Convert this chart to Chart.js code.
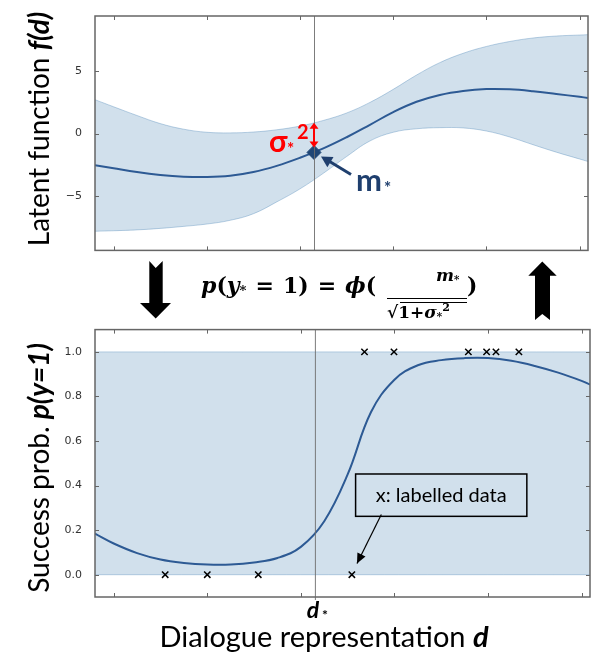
<!DOCTYPE html>
<html>
<head>
<meta charset="utf-8">
<script src="https://cdn.jsdelivr.net/npm/chart.js@4.4.1/dist/chart.umd.min.js"></script>
<style>
body{margin:0;background:#fff;width:596px;height:652px;overflow:hidden;position:relative}
#cTop{position:absolute;left:0;top:0}
#cBot{position:absolute;left:0;top:318px}
.fm{position:absolute;font-family:"DejaVu Serif",serif;font-weight:bold;line-height:1;white-space:nowrap;color:#000}
.fm i{font-style:italic}
.fm .op{margin:0 9px}
.fm .sb{font-size:60%;vertical-align:-2px}
.fm sup{font-size:65%;line-height:0}
.bar{position:absolute;height:1.5px;background:#000}
svg{position:absolute;left:0;top:0}
</style>
</head>
<body>
<canvas id="cTop" width="596" height="262"></canvas>
<canvas id="cBot" width="596" height="334"></canvas>

<svg width="596" height="652">
  <polygon points="149.3,261 155.7,268 162.7,261 162.7,303 171,303 155.7,318.5 140,303 149.3,303" fill="#000"/>
  <polygon points="542.3,261.5 556.7,275.7 550,275.7 550,320 542.3,314 535,320 535,275.7 528.3,275.7" fill="#000"/>
</svg>

<div class="fm" style="left:201px;top:274px;font-size:22px"><i>p</i>(<i>y</i><span class="sb">*</span><span class="op">=</span>1)<span class="op">=</span><i>ϕ</i>(</div>
<div class="fm" style="left:436px;top:267px;font-size:17px"><i>m</i><span class="sb">*</span></div>
<div class="bar" style="left:387px;top:297.5px;width:80px"></div>
<div class="bar" style="left:400px;top:301.5px;width:67px"></div>
<div class="fm" style="left:387px;top:304px;font-size:17px">√1+<i>σ</i><span class="sb">*</span><sup>2</sup></div>
<div class="fm" style="left:467px;top:274px;font-size:22px">)</div>

<script>
// ================= DATA =================
const xMin = -0.2;
const xMax = 5.09;
const xTicks = [0, 1, 2, 3, 4, 5];

// latent function (top)
const xs     = [-0.2, 0, 0.25, 0.5, 0.75, 1.0, 1.25, 1.5, 1.75, 2.0, 2.25, 2.5, 2.75, 3.0, 3.25, 3.5, 3.75, 4.0, 4.25, 4.5, 4.75, 5.0, 5.09];
const fMean  = [-2.55, -2.8, -3.1, -3.33, -3.47, -3.5, -3.4, -3.1, -2.6, -1.95, -1.2, -0.3, 0.7, 1.72, 2.55, 3.1, 3.42, 3.57, 3.55, 3.4, 3.18, 2.95, 2.86];
const fUpper = [2.72, 2.15, 1.45, 0.8, 0.35, 0.1, 0.05, 0.12, 0.3, 0.6, 1.05, 1.65, 2.5, 3.55, 4.7, 5.7, 6.45, 7.0, 7.4, 7.68, 7.84, 7.92, 7.95];
const fLower = [-7.86, -7.82, -7.75, -7.63, -7.47, -7.28, -6.98, -6.45, -5.5, -4.45, -3.2, -1.85, -0.6, 0.1, 0.38, 0.47, 0.45, 0.2, -0.28, -0.9, -1.5, -2.05, -2.25];
const fTicks = [-5, 0, 5];

// test point d*
const dStar = 2.15;
const mStar = -1.52;
const sigmaTop = 0.87;

// success probability (bottom)
const pSucc  = [0.184, 0.14, 0.097, 0.068, 0.053, 0.046, 0.046, 0.055, 0.075, 0.125, 0.24, 0.45, 0.73, 0.875, 0.94, 0.963, 0.972, 0.972, 0.96, 0.937, 0.907, 0.87, 0.853];
const pTicks = [0, 0.2, 0.4, 0.6, 0.8, 1.0];
const bandX  = [-0.2, 5.09];
const bandHi = [1, 1];
const bandLo = [0, 0];

// labelled data
const failX = [0.55, 1.0, 1.545, 2.545];
const failY = [0, 0, 0, 0];
const succX = [2.68, 2.995, 3.79, 3.985, 4.085, 4.33];
const succY = [1, 1, 1, 1, 1, 1];

// ================= HELPERS =================
const pts = (xa, ya) => xa.map((x, i) => ({x: x, y: ya[i]}));

const BAND = "rgba(70,130,180,0.25)";
const BAND_EDGE = "rgba(70,130,180,0.35)";
const LINE = "#2d5a94";
const FRAME = "#666";
const TXT = "Lato, sans-serif";

function frame(chart, yTicks, extendLine) {
    const {ctx, chartArea: a, scales: {x, y}} = chart;
    ctx.save();
    // d* vertical line
    const px = x.getPixelForValue(dStar);
    ctx.strokeStyle = "rgba(110,110,110,0.9)";
    ctx.lineWidth = 1;
    ctx.beginPath();
    ctx.moveTo(px + 0.5, a.top);
    ctx.lineTo(px + 0.5, a.bottom + extendLine);
    ctx.stroke();
    // box
    ctx.strokeStyle = FRAME;
    ctx.lineWidth = 1.5;
    ctx.strokeRect(a.left, a.top, a.right - a.left, a.bottom - a.top);
    // inward ticks
    ctx.lineWidth = 1;
    ctx.beginPath();
    xTicks.forEach(v => {
        const p = Math.round(x.getPixelForValue(v)) + 0.5;
        ctx.moveTo(p, a.bottom); ctx.lineTo(p, a.bottom - 4);
        ctx.moveTo(p, a.top); ctx.lineTo(p, a.top + 4);
    });
    yTicks.forEach(v => {
        const p = Math.round(y.getPixelForValue(v)) + 0.5;
        ctx.moveTo(a.left, p); ctx.lineTo(a.left + 4, p);
        ctx.moveTo(a.right, p); ctx.lineTo(a.right - 4, p);
    });
    ctx.stroke();
    ctx.restore();
}

function vTitle(ctx, cx, cy, parts) {
    ctx.save();
    ctx.translate(cx, cy);
    ctx.rotate(-Math.PI / 2);
    ctx.textBaseline = "middle";
    ctx.fillStyle = "#000";
    let total = 0;
    parts.forEach(p => { ctx.font = p.font; total += ctx.measureText(p.t).width; });
    let xx = -total / 2;
    parts.forEach(p => {
        ctx.font = p.font;
        ctx.fillText(p.t, xx, 0);
        xx += ctx.measureText(p.t).width;
    });
    ctx.restore();
}

function arrowHead(ctx, x1, y1, x2, y2, len, wid) {
    const ang = Math.atan2(y2 - y1, x2 - x1);
    ctx.beginPath();
    ctx.moveTo(x2, y2);
    ctx.lineTo(x2 - len * Math.cos(ang) + wid * Math.sin(ang), y2 - len * Math.sin(ang) - wid * Math.cos(ang));
    ctx.lineTo(x2 - len * Math.cos(ang) - wid * Math.sin(ang), y2 - len * Math.sin(ang) + wid * Math.cos(ang));
    ctx.closePath();
    ctx.fill();
}

function baseOptions(yMin, yMax, yTicks, fmt, pad) {
    return {
        responsive: false,
        animation: false,
        events: [],
        layout: {padding: pad},
        plugins: {legend: {display: false}, tooltip: {enabled: false}},
        elements: {line: {tension: 0.4}},
        scales: {
            x: {
                type: "linear", min: xMin, max: xMax, display: false,
                afterBuildTicks: s => { s.ticks = xTicks.map(v => ({value: v})); }
            },
            y: {
                min: yMin, max: yMax,
                grid: {display: false},
                border: {display: false},
                afterBuildTicks: s => { s.ticks = yTicks.map(v => ({value: v})); },
                afterFit: s => { s.width = 95; },
                ticks: {padding: 5, color: "#333", font: {family: "DejaVu Sans", size: 11}, callback: fmt}
            }
        }
    };
}

// ================= TOP CHART =================
const topDeco = {
    id: "topDeco",
    afterDraw(chart) {
        const {ctx, scales: {x, y}} = chart;
        frame(chart, fTicks, 0);
        const px = x.getPixelForValue(dStar);
        const pm = y.getPixelForValue(mStar);
        const ps = y.getPixelForValue(sigmaTop);
        ctx.save();
        // sigma double arrow
        ctx.strokeStyle = "#ff0000";
        ctx.fillStyle = "#ff0000";
        ctx.lineWidth = 2;
        ctx.beginPath();
        ctx.moveTo(px, pm - 8);
        ctx.lineTo(px, ps + 4);
        ctx.stroke();
        arrowHead(ctx, px, pm, px, ps, 6, 4.5);
        arrowHead(ctx, px, ps, px, pm - 5, 6, 4.5);
        // sigma label
        ctx.textBaseline = "alphabetic";
        ctx.font = "bold 30px " + TXT;
        ctx.fillText("σ", px - 45, pm);
        ctx.font = "bold 17px " + TXT;
        ctx.fillText("*", px - 27, pm + 3);
        ctx.font = "bold 20px " + TXT;
        ctx.fillText("2", px - 17, pm - 13);
        // m* arrow
        ctx.strokeStyle = "#1f3f6e";
        ctx.fillStyle = "#1f3f6e";
        ctx.lineWidth = 3;
        ctx.beginPath();
        ctx.moveTo(px + 37, pm + 22);
        ctx.lineTo(px + 14, pm + 8);
        ctx.stroke();
        arrowHead(ctx, px + 37, pm + 22, px + 7, pm + 4, 11, 6);
        ctx.font = "bold 31px " + TXT;
        ctx.fillText("m", px + 42, pm + 39);
        ctx.font = "bold 17px " + TXT;
        ctx.fillText("*", px + 70, pm + 42);
        ctx.restore();
        vTitle(ctx, 40, 129, [
            {t: "Latent function ", font: "28px " + TXT},
            {t: "f(d)", font: "italic bold 28px " + TXT}
        ]);
    }
};

new Chart(document.getElementById("cTop"), {
    type: "line",
    data: {
        datasets: [
            {data: pts(xs, fUpper), borderColor: BAND_EDGE, borderWidth: 1, pointRadius: 0, fill: "+1", backgroundColor: BAND, order: 3},
            {data: pts(xs, fLower), borderColor: BAND_EDGE, borderWidth: 1, pointRadius: 0, fill: false, order: 3},
            {data: pts(xs, fMean), borderColor: LINE, borderWidth: 2, pointRadius: 0, fill: false, order: 1},
            {data: [{x: dStar, y: mStar}], showLine: false, pointStyle: "rectRot", pointRadius: 7,
             backgroundColor: "#1f4675", borderColor: "#1f4675", order: 0}
        ]
    },
    options: baseOptions(-9.4, 9.45, fTicks, v => String(v).replace("-", "\u2212"),
                         {left: 0, top: 16, right: 2, bottom: 9}),
    plugins: [topDeco]
});

// ================= BOTTOM CHART =================
const botDeco = {
    id: "botDeco",
    afterDraw(chart) {
        const {ctx, chartArea: a, scales: {x, y}} = chart;
        frame(chart, pTicks, 3);
        ctx.save();
        // legend box
        const bx0 = x.getPixelForValue(2.585), bx1 = x.getPixelForValue(4.415);
        const by0 = y.getPixelForValue(0.452), by1 = y.getPixelForValue(0.262);
        ctx.strokeStyle = "#000";
        ctx.lineWidth = 1.5;
        ctx.strokeRect(bx0, by0, bx1 - bx0, by1 - by0);
        ctx.fillStyle = "#000";
        ctx.font = "20px " + TXT;
        ctx.textAlign = "center";
        ctx.textBaseline = "middle";
        ctx.fillText("x: labelled data", (bx0 + bx1) / 2, (by0 + by1) / 2);
        // arrow to a labelled point
        const ax0 = x.getPixelForValue(2.86), ay0 = y.getPixelForValue(0.27);
        const ax1 = x.getPixelForValue(2.6), ay1 = y.getPixelForValue(0.05);
        ctx.lineWidth = 1.2;
        ctx.beginPath();
        ctx.moveTo(ax0, ay0);
        ctx.lineTo(ax1, ay1);
        ctx.stroke();
        arrowHead(ctx, ax0, ay0, ax1, ay1, 10, 4.5);
        // d* label
        const px = x.getPixelForValue(dStar);
        ctx.textBaseline = "alphabetic";
        ctx.font = "italic bold 23px " + TXT;
        ctx.fillText("d", px - 2, a.bottom + 21);
        ctx.font = "bold 14px " + TXT;
        ctx.fillText("*", px + 10, a.bottom + 23);
        // x title
        ctx.textAlign = "left";
        const t1 = "Dialogue representation ";
        ctx.font = "29px " + TXT;
        const w1 = ctx.measureText(t1).width;
        ctx.font = "italic bold 29px " + TXT;
        const w2 = ctx.measureText("d").width;
        const sx = 324 - (w1 + w2) / 2;
        ctx.font = "29px " + TXT;
        ctx.fillText(t1, sx, a.bottom + 50);
        ctx.font = "italic bold 29px " + TXT;
        ctx.fillText("d", sx + w1, a.bottom + 50);
        ctx.restore();
        vTitle(ctx, 40, 150, [
            {t: "Success prob. ", font: "28px " + TXT},
            {t: "p(y=1)", font: "italic bold 28px " + TXT}
        ]);
    }
};

new Chart(document.getElementById("cBot"), {
    type: "line",
    data: {
        datasets: [
            {data: pts(bandX, bandHi), borderColor: BAND_EDGE, borderWidth: 1, pointRadius: 0, fill: "+1", backgroundColor: BAND, order: 3},
            {data: pts(bandX, bandLo), borderColor: BAND_EDGE, borderWidth: 1, pointRadius: 0, fill: false, order: 3},
            {data: pts(xs, pSucc), borderColor: LINE, borderWidth: 2, pointRadius: 0, fill: false, order: 1},
            {data: pts(failX, failY), showLine: false, pointStyle: "crossRot", pointRadius: 4.5, borderColor: "#000", borderWidth: 1.5, order: 0},
            {data: pts(succX, succY), showLine: false, pointStyle: "crossRot", pointRadius: 4.5, borderColor: "#000", borderWidth: 1.5, order: 0}
        ]
    },
    options: baseOptions(-0.1, 1.1, pTicks, v => v.toFixed(1),
                         {left: 0, top: 8, right: 2, bottom: 55}),
    plugins: [botDeco]
});
</script>
</body>
</html>
